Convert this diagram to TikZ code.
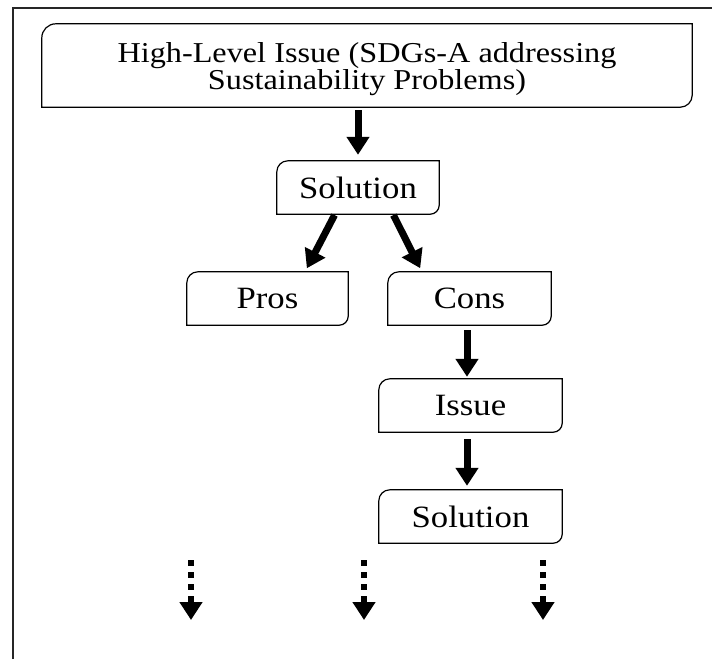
\documentclass[tikz,border=0pt]{standalone}
\usepackage{fontspec}
\setmainfont{Liberation Serif}[FakeStretch=1.12]
\usetikzlibrary{arrows.meta}

\tikzset{
  box/.style={minimum height=53pt, inner sep=0pt, font=\fontsize{31}{34}\selectfont},
  outline/.style={line width=1.2pt, black},
  frameline/.style={line width=2pt, black!85},
  fatarrow/.style={line width=7pt, -{Triangle[length=18pt,width=22pt]}},
  dotarrow/.style={line width=6pt, dash pattern=on 6pt off 6pt, -{Triangle[length=18pt,width=22pt]}},
}

% outline with rounded top-left and bottom-right corners
\newcommand\diagoutline[3]{%
  \draw[outline] (#1.west) [rounded corners=#2] -- (#1.north west) -- (#1.north)
    [sharp corners] -- (#1.north east) -- (#1.east)
    [rounded corners=#3] -- (#1.south east) -- (#1.south)
    [sharp corners] -- (#1.south west) -- cycle;}

\begin{document}
\begin{tikzpicture}[x=1pt,y=-1pt]
  \useasboundingbox (0,0) rectangle (712,659);
  \fill[white] (0,0) rectangle (712,659);
  \draw[frameline] (13,659) -- (13,8) -- (712,8);

  % boxes
  \node[box, minimum width=650pt, minimum height=83pt] (top) at (367,65.5) {};
  \node[inner sep=0pt, align=center, font=\fontsize{28.8}{27}\selectfont]
        (toptext) at ([yshift=-3.3pt]top.center)
        {High-Level Issue (SDGs-A addressing\\Sustainability Problems)};
  \node[box, minimum width=162pt] (sol1) at (358,187.5) {Solution};
  \node[box, minimum width=161pt] (pros) at (267.5,298.5) {Pros};
  \node[box, minimum width=163pt] (cons) at (469.5,298.5) {Cons};
  \node[box, minimum width=183pt] (issue) at (470.5,405.5) {Issue};
  \node[box, minimum width=183pt] (sol2) at (470.5,516.5) {Solution};

  \diagoutline{top}{14pt}{12pt}
  \diagoutline{sol1}{11pt}{9pt}
  \diagoutline{pros}{11pt}{9pt}
  \diagoutline{cons}{11pt}{9pt}
  \diagoutline{issue}{11pt}{9pt}
  \diagoutline{sol2}{11pt}{9pt}

  % connectors
  \draw[fatarrow, shorten <=3pt, shorten >=6pt] (sol1.north |- top.south) -- (sol1.north);
  \draw[fatarrow, shorten <=1pt, shorten >=4pt] ([xshift=-23pt]sol1.south) -- ([xshift=37.5pt]pros.north);
  \draw[fatarrow, shorten <=1pt, shorten >=4pt] ([xshift=35pt]sol1.south) -- ([xshift=-47.5pt]cons.north);
  \draw[fatarrow, shorten <=5pt, shorten >=2pt] ([xshift=-3.5pt]issue.north |- cons.south) -- ([xshift=-3.5pt]issue.north);
  \draw[fatarrow, shorten <=7pt, shorten >=4pt] ([xshift=-3.5pt]sol2.north |- issue.south) -- ([xshift=-3.5pt]sol2.north);

  % continuation markers
  \coordinate (c1a) at (191,560);  \coordinate (c1b) at (191,620);
  \coordinate (c2a) at (364,560);  \coordinate (c2b) at (364,620);
  \coordinate (c3a) at (543,560);  \coordinate (c3b) at (543,620);
  \draw[dotarrow] (c1a) -- (c1b);
  \draw[dotarrow] (c2a) -- (c2b);
  \draw[dotarrow] (c3a) -- (c3b);
\end{tikzpicture}
\end{document}
